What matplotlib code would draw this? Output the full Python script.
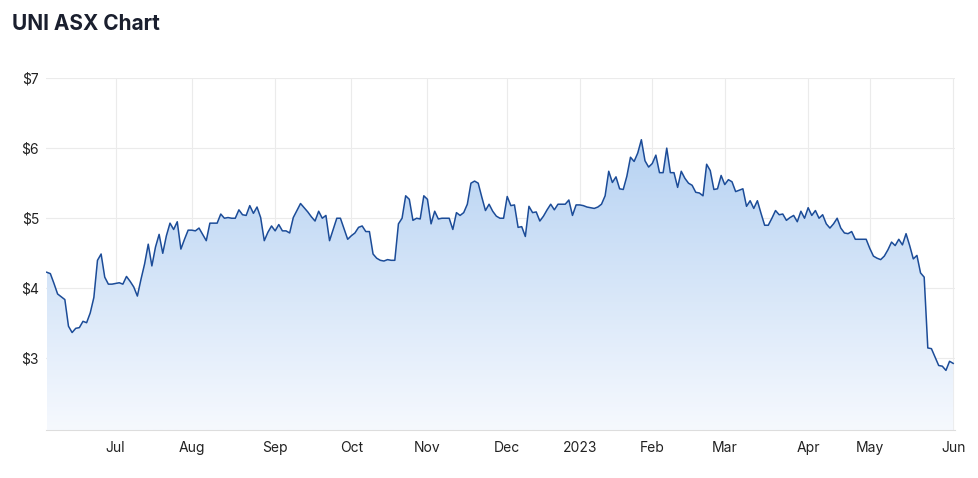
import numpy as np
import pandas as pd
import matplotlib
matplotlib.use("Agg")
import matplotlib.pyplot as plt
from matplotlib.colors import LinearSegmentedColormap

plt.rcParams['font.family'] = ['Inter', 'DejaVu Sans']

# ASX trading days, 3 Jun 2022 - 1 Jun 2023
holidays = ['2022-06-13', '2022-09-22', '2022-12-26', '2022-12-27', '2023-01-02',
            '2023-01-26', '2023-04-07', '2023-04-10', '2023-04-25']
dates = pd.bdate_range('2022-06-03', '2023-06-01', freq='C', holidays=holidays)

# closing price (AUD)
prices = [
    4.23, 4.21, 4.07, 3.92, 3.88, 3.84, 3.46, 3.37, 3.43, 3.44,
    3.53, 3.51, 3.65, 3.87, 4.40, 4.49, 4.16, 4.06, 4.06, 4.07,
    4.08, 4.06, 4.17, 4.10, 4.02, 3.89, 4.13, 4.35, 4.63, 4.32,
    4.59, 4.77, 4.50, 4.75, 4.93, 4.84, 4.95, 4.56, 4.70, 4.83,
    4.83, 4.82, 4.86, 4.77, 4.68, 4.93, 4.93, 4.93, 5.06, 5.00,
    5.01, 5.00, 5.00, 5.12, 5.05, 5.04, 5.18, 5.07, 5.16, 5.01,
    4.68, 4.80, 4.89, 4.82, 4.91, 4.82, 4.82, 4.79, 5.01, 5.11,
    5.21, 5.15, 5.09, 5.02, 4.96, 5.10, 5.00, 5.04, 4.68, 4.84,
    5.00, 5.00, 4.85, 4.70, 4.75, 4.79, 4.87, 4.89, 4.81, 4.81,
    4.49, 4.43, 4.40, 4.39, 4.41, 4.40, 4.40, 4.92, 5.00, 5.32,
    5.27, 4.97, 5.00, 4.99, 5.32, 5.27, 4.92, 5.10, 4.99, 5.00,
    5.00, 5.00, 4.84, 5.08, 5.04, 5.08, 5.20, 5.50, 5.53, 5.50,
    5.30, 5.11, 5.20, 5.10, 5.03, 5.00, 5.00, 5.31, 5.18, 5.19,
    4.87, 4.88, 4.74, 5.17, 5.08, 5.09, 4.96, 5.03, 5.12, 5.20,
    5.12, 5.20, 5.20, 5.20, 5.26, 5.04, 5.19, 5.19, 5.18, 5.16,
    5.15, 5.14, 5.16, 5.20, 5.32, 5.67, 5.51, 5.59, 5.42, 5.41,
    5.60, 5.87, 5.81, 5.93, 6.12, 5.82, 5.73, 5.78, 5.90, 5.65,
    5.65, 6.00, 5.65, 5.65, 5.44, 5.67, 5.57, 5.50, 5.47, 5.37,
    5.36, 5.32, 5.77, 5.68, 5.41, 5.42, 5.61, 5.48, 5.55, 5.52,
    5.38, 5.40, 5.42, 5.17, 5.25, 5.14, 5.25, 5.07, 4.90, 4.90,
    5.00, 5.11, 5.05, 5.06, 4.97, 5.01, 5.04, 4.95, 5.10, 5.00,
    5.15, 5.04, 5.11, 5.00, 5.05, 4.92, 4.86, 4.92, 5.00, 4.86,
    4.79, 4.78, 4.81, 4.70, 4.70, 4.70, 4.70, 4.57, 4.46, 4.43,
    4.41, 4.46, 4.55, 4.66, 4.61, 4.70, 4.62, 4.78, 4.61, 4.42,
    4.47, 4.22, 4.16, 3.15, 3.14, 3.02, 2.90, 2.89, 2.83, 2.96,
    2.93,
]

month_labels = ['Jul', 'Aug', 'Sep', 'Oct', 'Nov', 'Dec', '2023',
                'Feb', 'Mar', 'Apr', 'May', 'Jun']
y_ticks = [3, 4, 5, 6, 7]

x = np.arange(len(dates))
y = np.array(prices)

# first trading day of each month (skip the partial first month)
months = dates.to_period('M')
starts = [i for i in range(1, len(dates)) if months[i] != months[i - 1]]

fig = plt.figure(figsize=(9.79, 4.78), dpi=100)
ax = fig.add_axes([46 / 979, 1 - 430 / 478, 909 / 979, 352 / 478])

y_lo, y_hi = 1.98, 7.0
ax.set_xlim(-0.2, len(dates) - 0.5)
ax.set_ylim(y_lo, y_hi)

# gradient under the line
cmap = LinearSegmentedColormap.from_list('fade', ['#f6f9fe', '#a9caf0'])
grad = np.linspace(0, 1, 256).reshape(-1, 1)
img = ax.imshow(grad, extent=[x[0], x[-1], y_lo, y_hi], origin='lower',
                aspect='auto', cmap=cmap, zorder=1)
poly = ax.fill_between(x, y, y_lo, color='none', lw=0)
img.set_clip_path(poly.get_paths()[0], transform=ax.transData)

ax.plot(x, y, color='#1c4c98', lw=1.1, zorder=3)

ax.set_xticks(starts)
ax.set_xticklabels(month_labels)
ax.set_yticks(y_ticks)
ax.set_yticklabels([f'${v}' for v in y_ticks])
ax.grid(True, color='#ebebeb', lw=0.8, zorder=0)
ax.set_axisbelow(True)
ax.tick_params(length=0, labelsize=10, colors='#222222')
ax.tick_params(axis='x', pad=8)
ax.tick_params(axis='y', pad=5)

for s in ['top', 'right', 'left']:
    ax.spines[s].set_visible(False)
ax.spines['bottom'].set_color('#dddddd')

fig.text(12 / 979, 1 - 30 / 478, 'UNI ASX Chart', fontsize=15, fontweight='bold',
         color='#1a1f2e', ha='left', va='baseline')

fig.savefig('out.png', dpi=100)
